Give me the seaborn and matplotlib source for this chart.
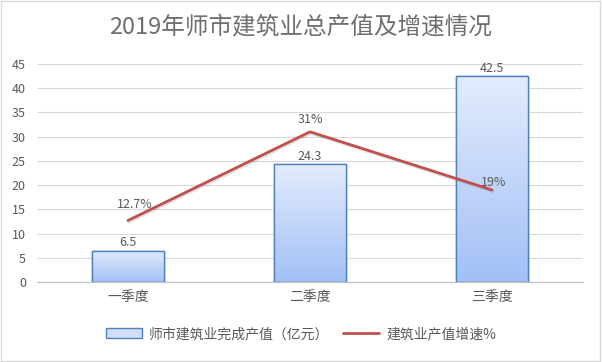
import numpy as np
import matplotlib
matplotlib.use("Agg")
import matplotlib.pyplot as plt
import matplotlib.patheffects as pe
from matplotlib.patches import Patch, Rectangle
from matplotlib.lines import Line2D
from matplotlib.colors import LinearSegmentedColormap
import seaborn as sns

quarters = ["一季度", "二季度", "三季度"]
output_value = [6.5, 24.3, 42.5]      # 亿元
growth_rate = [12.7, 31, 19]          # %
growth_labels = ["12.7%", "31%", "19%"]

sns.set_theme(style="white")
plt.rcParams["font.family"] = ["Noto Sans CJK SC", "DejaVu Sans"]

GRID = "#d9d9d9"
EDGE = "#4f81bd"
RED = "#c0504d"
LBL = "#595959"

fig = plt.figure(figsize=(6.02, 3.62), dpi=100)
ax = fig.add_axes([37 / 602, 80 / 362, 546 / 602, 218 / 362])

sns.barplot(x=quarters, y=output_value, ax=ax, width=0.4,
            color="#c6d9f7", edgecolor=EDGE, linewidth=1.0, zorder=2)

# gradient fill inside bars
cmap = LinearSegmentedColormap.from_list("g", ["#a2c0f6", "#e3ecfd"])
grad = np.linspace(0, 1, 256).reshape(-1, 1)
for bar in ax.patches:
    x0, y0 = bar.get_x(), bar.get_y()
    w, h = bar.get_width(), bar.get_height()
    im = ax.imshow(grad, cmap=cmap, origin="lower", aspect="auto",
                   extent=[x0, x0 + w, y0, y0 + h], zorder=2.5)
    im.set_clip_path(bar)
    ax.add_patch(Rectangle((x0, y0), w, h, fill=False, edgecolor=EDGE,
                           linewidth=1.0, zorder=3))
    ax.annotate(f"{h:g}", (x0 + w / 2, y0 + h), xytext=(0, 1),
                textcoords="offset points", ha="center", va="bottom",
                fontsize=9, color=LBL, zorder=5)

sns.lineplot(x=np.arange(len(quarters)), y=growth_rate, ax=ax, color=RED,
             linewidth=2, zorder=4,
             path_effects=[pe.SimpleLineShadow(offset=(0.8, -1.2), alpha=0.12),
                           pe.Normal()])
line_offsets = [(5, 7), (0, 4), (1, 1)]
for i, (v, lab) in enumerate(zip(growth_rate, growth_labels)):
    ax.annotate(lab, (i, v), xytext=line_offsets[i], textcoords="offset points",
                ha="center", va="bottom", fontsize=9, color=LBL, zorder=5)

ax.set_xlim(-0.5, 2.5)
ax.set_ylim(0, 45)
ax.set_yticks(range(0, 46, 5))
ax.yaxis.grid(True, color=GRID, linewidth=0.8, zorder=0)
ax.set_axisbelow(True)
for s in ["top", "right", "left"]:
    ax.spines[s].set_visible(False)
ax.spines["bottom"].set_color("#bfbfbf")
ax.spines["bottom"].set_linewidth(0.8)
ax.tick_params(axis="y", length=0, labelsize=9, labelcolor=LBL, pad=8)
ax.tick_params(axis="x", length=0, labelsize=10, labelcolor=LBL, pad=6)
ax.set_xlabel("")
ax.set_ylabel("")

fig.text(0.5, 1 - 28 / 362, "2019年师市建筑业总产值及增速情况", ha="center",
         va="center", fontsize=17, color="#6e6e6e")

handles = [Patch(facecolor="#cfdefa", edgecolor=EDGE, linewidth=1.0),
           Line2D([0], [0], color=RED, linewidth=2)]
fig.legend(handles, ["师市建筑业完成产值（亿元）", "建筑业产值增速%"],
           loc="center", bbox_to_anchor=(0.5, 1 - 334 / 362), ncol=2,
           frameon=False, fontsize=10, labelcolor=LBL,
           handlelength=2.6, handleheight=0.7, columnspacing=1.0,
           handletextpad=0.5)

fig.add_artist(Rectangle((0.002, 0.003), 0.995, 0.994, transform=fig.transFigure,
                         fill=False, edgecolor=GRID, linewidth=1))

fig.savefig("out.png", dpi=100)
